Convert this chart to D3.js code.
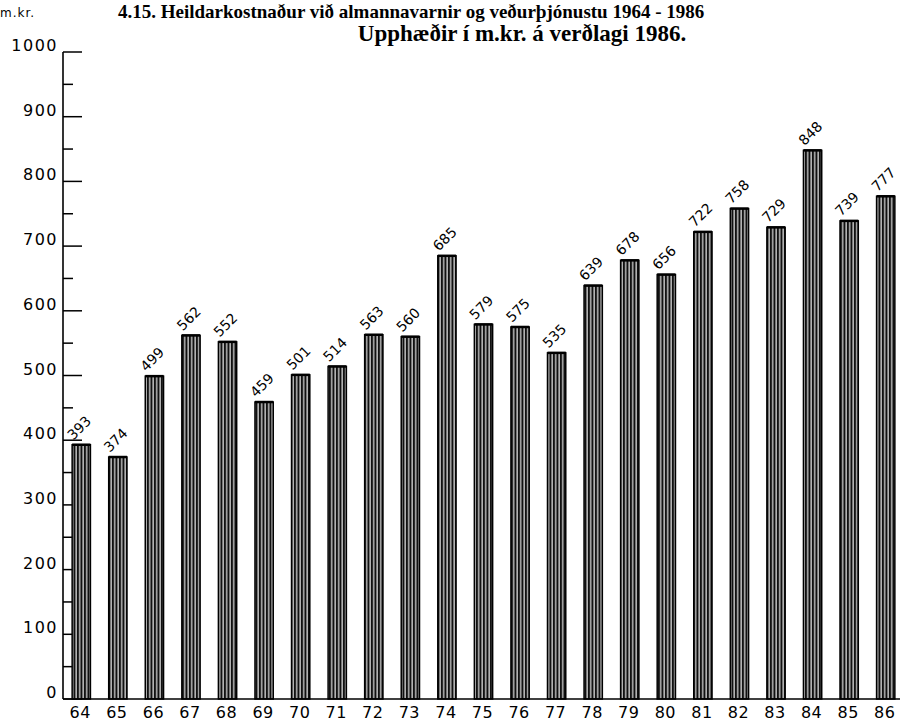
<!DOCTYPE html>
<html>
<head>
<meta charset="utf-8">
<script src="https://cdn.jsdelivr.net/npm/d3@7"></script>
<style>
	body { margin: 0; background: #fff; }
	svg { display: block; }
</style>
</head>
<body>
<div id="chart"></div>
<script>
// data
const years = ['64', '65', '66', '67', '68', '69', '70', '71', '72', '73', '74', '75', '76', '77', '78', '79', '80', '81', '82', '83', '84', '85', '86'];
const values = [393, 374, 499, 562, 552, 459, 501, 514, 563, 560, 685, 579, 575, 535, 639, 678, 656, 722, 758, 729, 848, 739, 777];
const yTicks = [0, 100, 200, 300, 400, 500, 600, 700, 800, 900, 1000];
const yMinorTicks = [50, 150, 250, 350, 450, 550, 650, 750, 850, 950];
const titleLine = '4.15. Heildarkostnaður við almannavarnir og veðurþjónustu 1964 - 1986';
const subTitle = 'Upphæðir í m.kr. á verðlagi 1986.';
const unitLabel = 'm.kr.';

const width = 905;
const height = 724;
const plotFont = '"DejaVu Sans", sans-serif';

const data = years.map((y, i) => ({ year: y, value: values[i] }));

const svg = d3
	.select('#chart')
	.append('svg')
	.attr('width', width)
	.attr('height', height);

// vertical hatching like the plotter fill
const defs = svg.append('defs');
const pat = defs
	.append('pattern')
	.attr('id', 'hatch')
	.attr('patternUnits', 'userSpaceOnUse')
	.attr('width', 3.5)
	.attr('height', 10);
pat.append('rect').attr('width', 3.5).attr('height', 10).attr('fill', '#111');
pat.append('rect').attr('x', 2).attr('width', 1.4).attr('height', 10).attr('fill', '#c8c8c8');

const xScale = d3.scaleBand().domain(years).range([ 63, 904 ]).paddingInner(0.5).paddingOuter(0.25);
const yScale = d3.scaleLinear().domain([ 0, 1000 ]).range([ 699, 52 ]);

// titles
svg
	.append('text')
	.attr('x', 118)
	.attr('y', 18)
	.style('font-family', '"Liberation Serif", serif')
	.style('font-weight', 'bold')
	.style('font-size', '19px')
	.text(titleLine);

svg
	.append('text')
	.attr('x', 522)
	.attr('y', 41)
	.attr('text-anchor', 'middle')
	.style('font-family', '"Liberation Serif", serif')
	.style('font-weight', 'bold')
	.style('font-size', '23px')
	.text(subTitle);

svg
	.append('text')
	.attr('x', 0)
	.attr('y', 17)
	.style('font-family', plotFont)
	.style('font-size', '12px')
	.style('letter-spacing', '1px')
	.text(unitLabel);

// y axis line
svg
	.append('line')
	.attr('x1', 63)
	.attr('x2', 63)
	.attr('y1', yScale(1000))
	.attr('y2', yScale(0))
	.style('stroke', '#000')
	.style('stroke-width', 1.6);

// major ticks
svg
	.selectAll('.major')
	.data(yTicks)
	.enter()
	.append('line')
	.attr('x1', 63)
	.attr('x2', 82)
	.attr('y1', (d) => yScale(d))
	.attr('y2', (d) => yScale(d))
	.style('stroke', '#000')
	.style('stroke-width', 1.5);

// minor ticks
svg
	.selectAll('.minor')
	.data(yMinorTicks)
	.enter()
	.append('line')
	.attr('x1', 63)
	.attr('x2', 73)
	.attr('y1', (d) => yScale(d))
	.attr('y2', (d) => yScale(d))
	.style('stroke', '#000')
	.style('stroke-width', 1.5);

// y tick labels
svg
	.selectAll('.ylab')
	.data(yTicks)
	.enter()
	.append('text')
	.attr('x', 58)
	.attr('y', (d) => yScale(d) - 1)
	.attr('text-anchor', 'end')
	.style('font-family', plotFont)
	.style('font-size', '16px')
	.style('letter-spacing', '1.5px')
	.text((d) => d);

// bars
svg
	.selectAll('.bar')
	.data(data)
	.enter()
	.append('rect')
	.attr('x', (d) => xScale(d.year))
	.attr('y', (d) => yScale(d.value))
	.attr('width', xScale.bandwidth())
	.attr('height', (d) => yScale(0) - yScale(d.value))
	.attr('fill', 'url(#hatch)')
	.style('stroke', '#000')
	.style('stroke-width', 1.5);

// bar tops a bit heavier
svg
	.selectAll('.bartop')
	.data(data)
	.enter()
	.append('line')
	.attr('x1', (d) => xScale(d.year))
	.attr('x2', (d) => xScale(d.year) + xScale.bandwidth())
	.attr('y1', (d) => yScale(d.value))
	.attr('y2', (d) => yScale(d.value))
	.style('stroke', '#000')
	.style('stroke-width', 2.5);

// value labels, slanted at 45 degrees
svg
	.selectAll('.vlab')
	.data(data)
	.enter()
	.append('text')
	.attr('x', 0)
	.attr('y', 0)
	.style('font-family', plotFont)
	.style('font-size', '14px')
	.style('transform-box', 'view-box')
	.style('transform-origin', '0 0')
	.style('transform', (d) => `translate(${xScale(d.year) + 1}px, ${yScale(d.value) - 4}px) rotate(-45deg)`)
	.text((d) => d.value);

// x axis baseline
svg
	.append('line')
	.attr('x1', 63)
	.attr('x2', 900)
	.attr('y1', yScale(0))
	.attr('y2', yScale(0))
	.style('stroke', '#000')
	.style('stroke-width', 1.6);

// x labels
svg
	.selectAll('.xlab')
	.data(years)
	.enter()
	.append('text')
	.attr('x', (d) => xScale(d) + xScale.bandwidth() / 2 - 1)
	.attr('y', 718)
	.attr('text-anchor', 'middle')
	.style('font-family', plotFont)
	.style('font-size', '16px')
	.style('letter-spacing', '0.5px')
	.text((d) => d);
</script>
</body>
</html>
